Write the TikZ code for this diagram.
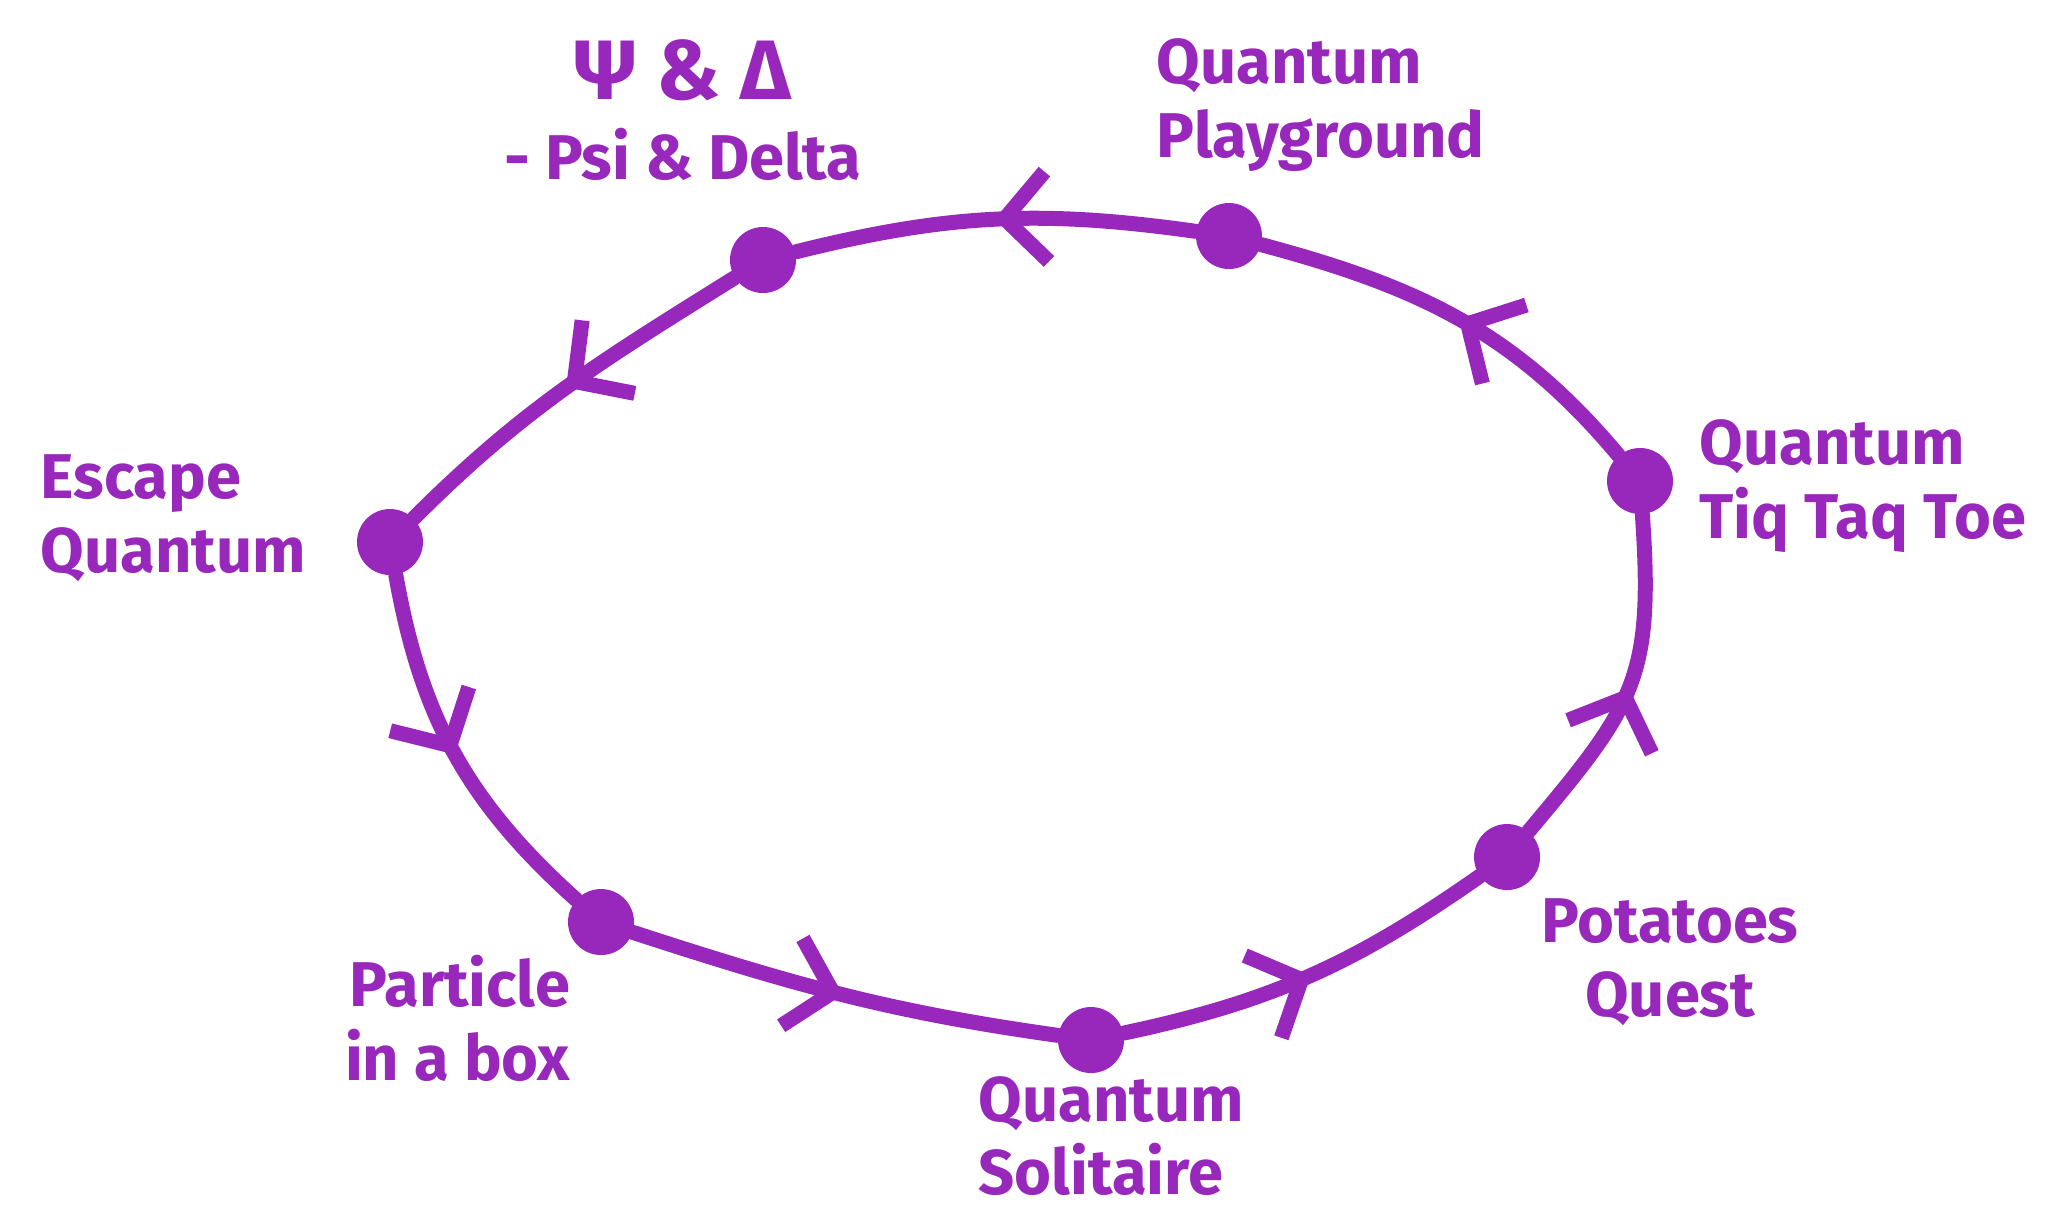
\documentclass[tikz,border=0pt]{standalone}
\usepackage{fontspec}
\setmainfont{Fira Sans}
\usetikzlibrary{arrows.meta, decorations.markings}

\definecolor{qpurple}{RGB}{152,40,188}

\begin{document}
\begin{tikzpicture}[
  dot/.style={circle, fill=qpurple, minimum size=6.6mm, inner sep=0pt},
  lbl/.style={text=qpurple, font=\fontsize{18}{21}\selectfont\bfseries, inner sep=0pt},
  loop/.style={draw=qpurple, line width=1.5mm, line cap=round,
               postaction={decorate, decoration={markings,
                 mark=at position 0.5 with {\arrow{Straight Barb[length=4.2mm, width=9mm]}}}}}
]
  \useasboundingbox (0,0) rectangle (20.59,-12.14);

  % stations on the loop
  \node[dot] (pd) at (7.63,-2.60) {};
  \node[dot] (pg) at (12.29,-2.36) {};
  \node[dot] (tt) at (16.40,-4.81) {};
  \node[dot] (pq) at (15.07,-8.57) {};
  \node[dot] (qs) at (10.91,-10.40) {};
  \node[dot] (pb) at (6.01,-9.22) {};
  \node[dot] (eq) at (3.90,-5.42) {};

  \node[lbl, align=center] (pdtext) at (6.83,-1.10)
    {{\fontsize{24}{24}\selectfont Ψ \& Δ}\\[2pt]- Psi \& Delta};
  \node[lbl, align=left, anchor=west] (pgtext) at (11.56,-1.05) {Quantum\\Playground};
  \node[lbl, align=left, anchor=west] (tttext) at (16.99,-4.86) {Quantum\\Tiq Taq Toe};
  \node[lbl, align=center] (pqtext) at (16.70,-9.62) {Potatoes\\Quest};
  \node[lbl, align=left, anchor=west] (qstext) at (9.78,-11.36) {Quantum\\Solitaire};
  \node[lbl, align=right, anchor=east] (pbtext) at (5.71,-10.18) {Particle\\in a box};
  \node[lbl, align=left, anchor=west] (eqtext) at (0.40,-5.18) {Escape\\Quantum};

  \draw[loop] (pg) to[out=172, in=14] (pd);
  \draw[loop] (pd) to[out=212, in=45] (eq);
  \draw[loop] (eq) to[out=-80, in=138] (pb);
  \draw[loop] (pb) to[out=-18, in=172] (qs);
  \draw[loop] (qs) to[out=12, in=215] (pq);
  \draw[loop] (pq) to[out=50, in=-86, looseness=1.25] (tt);
  \draw[loop] (tt) to[out=130, in=-15] (pg);
\end{tikzpicture}
\end{document}
